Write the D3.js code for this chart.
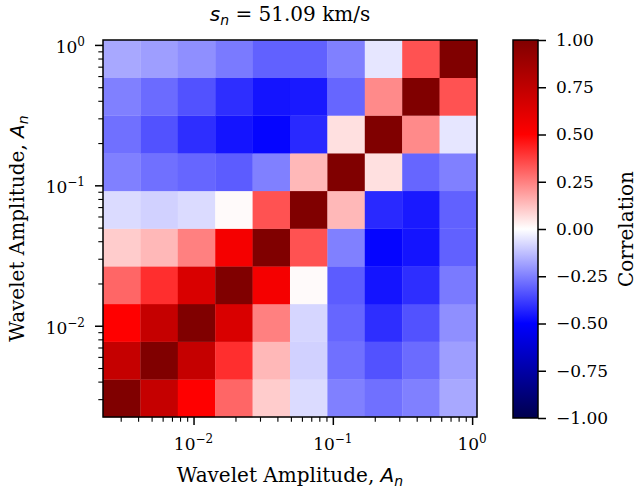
<!DOCTYPE html>
<html>
<head>
<meta charset="utf-8">
<script src="https://cdn.jsdelivr.net/npm/d3@7"></script>
<style>
  body { margin: 0; background: #ffffff; }
  text { font-family: "DejaVu Serif", serif; fill: #000; }
</style>
</head>
<body>
<svg id="chart" width="639" height="490"></svg>
<script>
// ---------- data ----------
// bin edges of the wavelet amplitude A_n (same bins on both axes)
const amplitudeEdges = [0.002239, 0.004154, 0.007709, 0.01431, 0.02655, 0.04926, 0.09141, 0.1696, 0.3148, 0.5841, 1.084];
// correlation[i][j]: row i = y bin (bottom to top), column j = x bin (left to right)
const correlation = [
  [ 1.00,  0.73,  0.50,  0.30,  0.10, -0.07, -0.25, -0.28, -0.25, -0.17],
  [ 0.73,  1.00,  0.73,  0.41,  0.14, -0.09, -0.28, -0.34, -0.29, -0.19],
  [ 0.50,  0.73,  1.00,  0.65,  0.25, -0.08, -0.30, -0.41, -0.34, -0.22],
  [ 0.30,  0.41,  0.65,  1.00,  0.54,  0.01, -0.32, -0.46, -0.41, -0.26],
  [ 0.10,  0.14,  0.25,  0.54,  1.00,  0.34, -0.25, -0.49, -0.46, -0.31],
  [-0.07, -0.09, -0.07,  0.01,  0.34,  1.00,  0.14, -0.42, -0.45, -0.31],
  [-0.25, -0.28, -0.30, -0.32, -0.25,  0.14,  1.00,  0.06, -0.30, -0.25],
  [-0.28, -0.34, -0.41, -0.46, -0.49, -0.42,  0.06,  1.00,  0.23, -0.05],
  [-0.25, -0.29, -0.34, -0.41, -0.46, -0.45, -0.30,  0.23,  1.00,  0.34],
  [-0.17, -0.19, -0.22, -0.26, -0.31, -0.31, -0.25, -0.05,  0.34,  1.00]
];
const majorTickValues = [0.01, 0.1, 1];
const majorTickExponents = ["\u22122", "\u22121", "0"];
const colorbarTicks = [-1, -0.75, -0.5, -0.25, 0, 0.25, 0.5, 0.75, 1];
const seismicStops = [-1, -0.5, 0, 0.5, 1];
const seismicColors = ["#00004d", "#0000ff", "#ffffff", "#ff0000", "#800000"];
const titleValue = "51.09 km/s";
const axisLabelText = "Wavelet Amplitude, ";
const colorbarLabel = "Correlation";

// ---------- layout ----------
const svg = d3.select("#chart");
const ax = { left: 103, right: 477, top: 40, bottom: 417 };
const cb = { left: 513, right: 538, top: 40, bottom: 418 };
const majorLen = 8, minorLen = 4.7;

const domain = [amplitudeEdges[0], amplitudeEdges[amplitudeEdges.length - 1]];
const x = d3.scaleLog().domain(domain).range([ax.left, ax.right]);
const y = d3.scaleLog().domain(domain).range([ax.bottom, ax.top]);
const color = d3.scaleLinear().domain(seismicStops).range(seismicColors).interpolate(d3.interpolateRgb).clamp(true);

// ---------- heatmap cells ----------
const cells = [];
correlation.forEach((row, i) => row.forEach((v, j) => cells.push({ i, j, v })));
svg.append("g").selectAll("rect").data(cells).join("rect")
  .attr("x", d => x(amplitudeEdges[d.j]))
  .attr("y", d => y(amplitudeEdges[d.i + 1]))
  .attr("width", d => x(amplitudeEdges[d.j + 1]) - x(amplitudeEdges[d.j]) + 0.3)
  .attr("height", d => y(amplitudeEdges[d.i]) - y(amplitudeEdges[d.i + 1]) + 0.3)
  .attr("fill", d => color(d.v));

// ---------- ticks ----------
const isMajor = v => Math.abs(Math.log10(v) - Math.round(Math.log10(v))) < 1e-6;
const minorTicks = x.ticks().filter(v => !isMajor(v) && v >= domain[0] && v <= domain[1]);

function styleAxis(g, w) {
  g.select(".domain").remove();
  g.selectAll(".tick line").attr("stroke", "#000").attr("stroke-width", w);
}
svg.append("g").attr("transform", `translate(0,${ax.bottom})`)
  .call(d3.axisBottom(x).tickValues(minorTicks).tickSize(minorLen).tickFormat(""))
  .call(g => styleAxis(g, 1.1));
svg.append("g").attr("transform", `translate(0,${ax.bottom})`)
  .call(d3.axisBottom(x).tickValues(majorTickValues).tickSize(majorLen).tickFormat(""))
  .call(g => styleAxis(g, 1.5));
svg.append("g").attr("transform", `translate(${ax.left},0)`)
  .call(d3.axisLeft(y).tickValues(minorTicks).tickSize(minorLen).tickFormat(""))
  .call(g => styleAxis(g, 1.1));
svg.append("g").attr("transform", `translate(${ax.left},0)`)
  .call(d3.axisLeft(y).tickValues(majorTickValues).tickSize(majorLen).tickFormat(""))
  .call(g => styleAxis(g, 1.5));

// tick labels with superscript exponent
majorTickValues.forEach((v, k) => {
  const tx = svg.append("text").attr("x", x(v)).attr("y", 450)
    .attr("text-anchor", "middle").attr("font-size", 17);
  tx.append("tspan").text("10");
  tx.append("tspan").attr("dy", -7).attr("font-size", 12).text(majorTickExponents[k]);

  const ty = svg.append("text").attr("x", 85).attr("y", y(v) + 8)
    .attr("text-anchor", "end").attr("font-size", 17);
  ty.append("tspan").text("10");
  ty.append("tspan").attr("dy", -7).attr("font-size", 12).text(majorTickExponents[k]);
});

// axes frame
svg.append("rect")
  .attr("x", ax.left).attr("y", ax.top)
  .attr("width", ax.right - ax.left).attr("height", ax.bottom - ax.top)
  .attr("fill", "none").attr("stroke", "#000").attr("stroke-width", 1.5);

// ---------- axis labels & title ----------
function mathLabel(sel, plain) {
  sel.append("tspan").text(plain);
  sel.append("tspan").attr("font-family", "DejaVu Sans").attr("font-style", "italic").text("A");
  sel.append("tspan").attr("font-family", "DejaVu Sans").attr("font-style", "italic")
    .attr("font-size", 14).attr("dy", 4).text("n");
}
const xl = svg.append("text").attr("x", (ax.left + ax.right) / 2).attr("y", 482)
  .attr("text-anchor", "middle").attr("font-size", 20);
mathLabel(xl, axisLabelText);

const yl = svg.append("text")
  .attr("transform", `translate(24,${(ax.top + ax.bottom) / 2}) rotate(-90)`)
  .attr("text-anchor", "middle").attr("font-size", 20);
mathLabel(yl, axisLabelText);

const title = svg.append("text").attr("x", (ax.left + ax.right) / 2).attr("y", 21)
  .attr("text-anchor", "middle").attr("font-size", 20);
title.append("tspan").attr("font-family", "DejaVu Sans").attr("font-style", "italic").text("s");
title.append("tspan").attr("font-family", "DejaVu Sans").attr("font-style", "italic")
  .attr("font-size", 14).attr("dy", 4).text("n");
title.append("tspan").attr("dy", -4).text(" = " + titleValue);

// ---------- colorbar ----------
const defs = svg.append("defs");
const grad = defs.append("linearGradient").attr("id", "seismic")
  .attr("x1", 0).attr("y1", 1).attr("x2", 0).attr("y2", 0);
grad.selectAll("stop").data(seismicStops).join("stop")
  .attr("offset", d => (d + 1) / 2)
  .attr("stop-color", d => color(d));

const cScale = d3.scaleLinear().domain([-1, 1]).range([cb.bottom, cb.top]);
svg.append("rect")
  .attr("x", cb.left).attr("y", cb.top)
  .attr("width", cb.right - cb.left).attr("height", cb.bottom - cb.top)
  .attr("fill", "url(#seismic)");
svg.append("g").attr("transform", `translate(${cb.right},0)`)
  .call(d3.axisRight(cScale).tickValues(colorbarTicks).tickSize(majorLen).tickPadding(10)
    .tickFormat(d3.format(".2f")))
  .call(g => {
    g.select(".domain").remove();
    g.selectAll(".tick line").attr("stroke", "#000").attr("stroke-width", 1.5);
    g.selectAll(".tick text").attr("font-size", 17).attr("font-family", "DejaVu Serif").attr("fill", "#000");
  });
svg.append("rect")
  .attr("x", cb.left).attr("y", cb.top)
  .attr("width", cb.right - cb.left).attr("height", cb.bottom - cb.top)
  .attr("fill", "none").attr("stroke", "#000").attr("stroke-width", 1.5);

svg.append("text")
  .attr("transform", `translate(633,${(cb.top + cb.bottom) / 2}) rotate(-90)`)
  .attr("text-anchor", "middle").attr("font-size", 20).text(colorbarLabel);
</script>
</body>
</html>
